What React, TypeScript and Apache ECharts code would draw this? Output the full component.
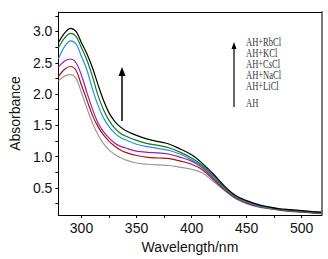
import React, { useEffect, useRef } from "react";
import * as echarts from "echarts";

const wavelengths = [279, 285, 290, 295, 300, 305, 310, 315, 320, 325, 330, 335, 340, 350, 360, 370, 380, 390, 400, 410, 420, 430, 440, 450, 460, 470, 480, 490, 500, 510, 518];

const seriesNames = ["AH+RbCl", "AH+KCl", "AH+CsCl", "AH+NaCl", "AH+LiCl", "AH"];
const seriesColors = ["#000000", "#1a7a1a", "#1f95e0", "#a21ea8", "#a51515", "#9a9a9a"];

const rbcl = [2.82, 2.98, 3.05, 3.0, 2.82, 2.64, 2.42, 2.15, 1.9, 1.7, 1.57, 1.48, 1.42, 1.34, 1.28, 1.24, 1.2, 1.12, 1.03, 0.89, 0.72, 0.53, 0.38, 0.3, 0.24, 0.2, 0.17, 0.155, 0.14, 0.125, 0.115];
const kcl = [2.74, 2.9, 2.97, 2.92, 2.74, 2.54, 2.28, 1.98, 1.75, 1.58, 1.46, 1.38, 1.33, 1.26, 1.21, 1.18, 1.14, 1.07, 0.98, 0.86, 0.69, 0.51, 0.37, 0.29, 0.23, 0.19, 0.16, 0.145, 0.13, 0.12, 0.11];
const cscl = [2.56, 2.77, 2.85, 2.8, 2.6, 2.38, 2.08, 1.82, 1.62, 1.48, 1.38, 1.31, 1.27, 1.2, 1.16, 1.13, 1.1, 1.04, 0.95, 0.84, 0.67, 0.5, 0.36, 0.28, 0.22, 0.185, 0.16, 0.14, 0.13, 0.115, 0.105];
const nacl = [2.43, 2.53, 2.56, 2.5, 2.3, 2.02, 1.76, 1.54, 1.4, 1.3, 1.22, 1.17, 1.14, 1.09, 1.07, 1.06, 1.04, 0.99, 0.93, 0.82, 0.65, 0.48, 0.35, 0.27, 0.21, 0.18, 0.155, 0.135, 0.125, 0.11, 0.1];
const licl = [2.28, 2.4, 2.44, 2.38, 2.14, 1.9, 1.66, 1.48, 1.35, 1.25, 1.17, 1.11, 1.07, 1.02, 0.99, 0.98, 0.97, 0.93, 0.88, 0.79, 0.63, 0.47, 0.34, 0.26, 0.205, 0.175, 0.15, 0.13, 0.12, 0.105, 0.095];
const ah = [2.21, 2.29, 2.31, 2.25, 2.02, 1.77, 1.54, 1.35, 1.21, 1.11, 1.04, 0.99, 0.95, 0.9, 0.88, 0.87, 0.86, 0.83, 0.8, 0.74, 0.6, 0.46, 0.33, 0.25, 0.2, 0.17, 0.145, 0.125, 0.115, 0.1, 0.09];

const allSeries = [rbcl, kcl, cscl, nacl, licl, ah];

const xLabelValues = [300, 350, 400, 450, 500];
const xTickValues = [300, 325, 350, 375, 400, 425, 450, 475, 500];
const yLabelValues = [0.5, 1.0, 1.5, 2.0, 2.5, 3.0];
const yTickValues = [0.25, 0.5, 0.75, 1.0, 1.25, 1.5, 1.75, 2.0, 2.25, 2.5, 2.75, 3.0, 3.25];

const legendTexts = ["AH+RbCl", "AH+KCl", "AH+CsCl", "AH+NaCl", "AH+LiCl", "AH"];
const legendY = [42, 53, 64, 75, 86, 103];

const SANS = "'Liberation Sans', Arial, sans-serif";
const SERIF = "'Liberation Serif', 'Times New Roman', serif";

export default function App() {
  const ref = useRef<HTMLDivElement>(null);
  useEffect(() => {
    document.body.style.margin = "0";
    const chart = echarts.init(ref.current!, null, { renderer: "svg" });
    const graphics: any[] = [
      { type: "line", shape: { x1: 122, y1: 121, x2: 122, y2: 74 }, style: { stroke: "#000", lineWidth: 1.5 } },
      { type: "polygon", shape: { points: [[122, 67], [118.5, 76], [125.5, 76]] }, style: { fill: "#000" } },
      { type: "line", shape: { x1: 234, y1: 107, x2: 234, y2: 48 }, style: { stroke: "#000", lineWidth: 1.2 } },
      { type: "polygon", shape: { points: [[234, 42], [231.5, 49], [236.5, 49]] }, style: { fill: "#000" } },
    ];
    legendTexts.forEach((t, i) => {
      graphics.push({
        type: "text",
        x: 246,
        y: legendY[i],
        scaleX: 0.74,
        style: { text: t, fill: "#333", font: `11.5px ${SERIF}`, verticalAlign: "middle" },
      });
    });
    chart.setOption({
      animation: false,
      backgroundColor: "#fff",
      grid: { left: 48.5, right: 6.5, top: 12, bottom: 44, containLabel: false },
      xAxis: [
        {
          type: "value",
          min: 279,
          max: 518,
          name: "Wavelength/nm",
          nameLocation: "middle",
          nameGap: 21,
          nameTextStyle: { fontFamily: SANS, fontSize: 14, color: "#111" },
          axisLine: { lineStyle: { color: "#000", width: 1 } },
          axisTick: { length: 3, customValues: xTickValues, lineStyle: { color: "#000" } },
          axisLabel: { customValues: xLabelValues, margin: 6, fontFamily: SANS, fontSize: 14, color: "#111" },
          splitLine: { show: false },
        },
        {
          type: "value",
          position: "top",
          min: 279,
          max: 518,
          axisLine: { show: true, lineStyle: { color: "#000", width: 1 } },
          axisTick: { show: false },
          axisLabel: { show: false },
          splitLine: { show: false },
        },
      ],
      yAxis: [
        {
          type: "value",
          min: 0.07,
          max: 3.31,
          name: "Absorbance",
          nameLocation: "middle",
          nameGap: 33,
          nameTextStyle: { fontFamily: SANS, fontSize: 14, color: "#111" },
          axisLine: { show: true, lineStyle: { color: "#000", width: 1 } },
          axisTick: { show: true, length: 3, customValues: yTickValues, lineStyle: { color: "#000" } },
          axisLabel: {
            customValues: yLabelValues,
            margin: 6,
            fontFamily: SANS,
            fontSize: 14,
            color: "#111",
            formatter: (v: number) => v.toFixed(1),
          },
          splitLine: { show: false },
        },
        {
          type: "value",
          position: "right",
          min: 0.07,
          max: 3.31,
          axisLine: { show: true, lineStyle: { color: "#7a7a7a", width: 2 } },
          axisTick: { show: false },
          axisLabel: { show: false },
          splitLine: { show: false },
        },
      ],
      series: allSeries.map((vals, i) => ({
        name: seriesNames[i],
        type: "line",
        xAxisIndex: 0,
        yAxisIndex: 0,
        data: wavelengths.map((w, j) => [w, vals[j]]),
        smooth: 0.35,
        showSymbol: false,
        symbol: "none",
        lineStyle: { color: seriesColors[i], width: 1.2 },
        z: 10 - i,
      })),
      graphic: graphics,
    });
    return () => chart.dispose();
  }, []);
  return <div ref={ref} style={{ width: 328, height: 259 }} />;
}
